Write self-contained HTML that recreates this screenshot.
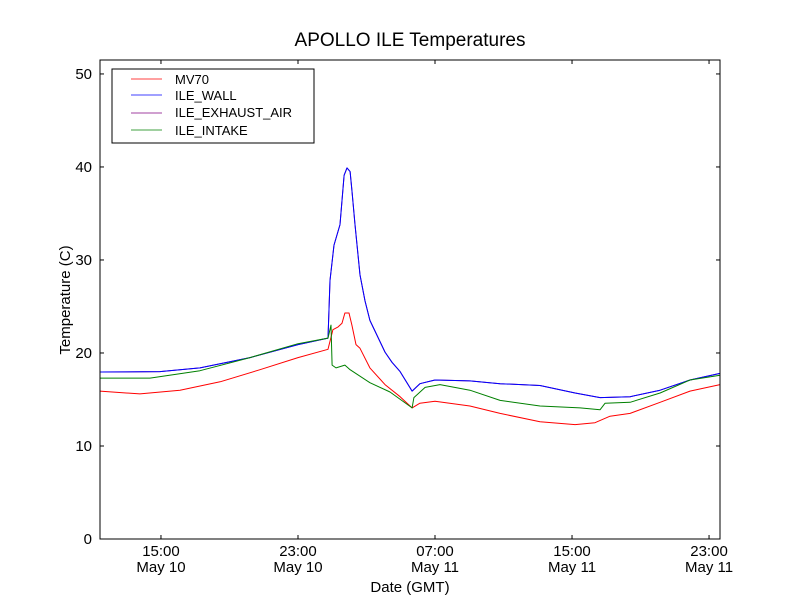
<!DOCTYPE html>
<html><head><meta charset="utf-8"><style>
body{margin:0;background:#fff;}
svg text{font-family:"Liberation Sans","DejaVu Sans",sans-serif;}
</style></head><body>
<svg id="c" width="800" height="600" xmlns="http://www.w3.org/2000/svg">
<rect width="800" height="600" fill="#fff"/>
<text x="410" y="46" font-size="19" text-anchor="middle">APOLLO ILE Temperatures</text>
<g id="plot"></g>
<rect x="100" y="60" width="620" height="479" fill="none" stroke="#000"/>
<g id="axes"></g>
<text x="410" y="592" font-size="15" text-anchor="middle">Date (GMT)</text>
<text transform="translate(70,300) rotate(-90)" font-size="15" text-anchor="middle">Temperature (C)</text>
<g>
<rect x="112" y="69" width="202" height="74" fill="#fff" stroke="#000"/>
<line x1="131" y1="79" x2="162" y2="79" stroke="#ff0000" stroke-width="0.8"/><text x="175" y="84" font-size="13">MV70</text>
<line x1="131" y1="95" x2="162" y2="95" stroke="#0000ff" stroke-width="0.8"/><text x="175" y="100" font-size="13">ILE_WALL</text>
<line x1="131" y1="113" x2="162" y2="113" stroke="#800080" stroke-width="0.8"/><text x="175" y="117" font-size="13">ILE_EXHAUST_AIR</text>
<line x1="131" y1="130" x2="162" y2="130" stroke="#008000" stroke-width="0.8"/><text x="175" y="135" font-size="13">ILE_INTAKE</text>
</g>
</svg>
<script>
// hours since May 10 00:00 GMT
const wallHours=[11.44,14.94,17.28,20.20,23.0,24.75,24.87,25.10,25.45,25.69,25.86,26.04,26.15,26.33,26.62,26.91,27.20,28.08,28.49,28.96,29.66,30.12,31.0,33.04,34.80,37.13,39.18,40.64,42.39,44.14,45.89,47.64];
const wallTemps=[17.96,18.0,18.4,19.5,20.9,21.6,27.8,31.6,33.8,39.1,39.9,39.5,37.5,33.8,28.4,25.6,23.5,20.1,19.0,18.0,15.9,16.7,17.1,17.0,16.7,16.5,15.7,15.2,15.3,16.0,17.1,17.8];
const mvHours=[11.44,13.77,16.11,18.45,20.78,23.0,24.75,25.04,25.34,25.57,25.74,25.98,26.15,26.39,26.62,27.20,28.08,28.96,29.66,30.12,31.0,33.04,34.80,37.13,39.18,40.34,41.22,42.39,44.14,45.89,47.64];
const mvTemps=[15.9,15.6,16.0,16.9,18.2,19.5,20.4,22.5,22.8,23.2,24.3,24.3,23.0,20.9,20.5,18.4,16.6,15.3,14.1,14.6,14.8,14.3,13.5,12.6,12.3,12.5,13.2,13.5,14.7,15.9,16.6];
const intakeHours=[11.44,14.36,17.28,20.20,23.0,24.75,24.93,24.99,25.22,25.74,26.04,27.20,28.37,29.66,29.77,30.42,31.29,33.04,34.80,37.13,39.47,40.64,40.93,42.39,44.14,45.89,47.64];
const intakeTemps=[17.3,17.3,18.1,19.5,21.0,21.6,23.0,18.7,18.4,18.7,18.2,16.8,15.8,14.1,15.2,16.3,16.6,16.0,14.9,14.3,14.1,13.9,14.6,14.7,15.7,17.1,17.6];
const exhaustHours=wallHours;
const exhaustTemps=wallTemps;
const yTicks=[0,10,20,30,40,50];
const xTickHours=[15,23,31,39,47];
const xTickTimes=["15:00","23:00","07:00","15:00","23:00"];
const xTickDates=["May 10","May 10","May 11","May 11","May 11"];

const X0=100,X1=720,Y0=539,Y1=60,H0=11.44,H1=47.64,T0=0,T1=51.5;
const sx=h=>X0+(h-H0)/(H1-H0)*(X1-X0);
const sy=t=>Y0-(t-T0)/(T1-T0)*(Y0-Y1);
const NS="http://www.w3.org/2000/svg";
const plot=document.getElementById('plot'),axes=document.getElementById('axes');
function mk(tag,attrs,parent){const e=document.createElementNS(NS,tag);for(const k in attrs)e.setAttribute(k,attrs[k]);parent.appendChild(e);return e;}
function line(hs,ts,color,name){
  const p=mk('polyline',{points:hs.map((h,i)=>sx(h).toFixed(1)+','+sy(ts[i]).toFixed(1)).join(' '),fill:'none',stroke:color,'stroke-width':1,'stroke-linejoin':'round'},plot);
  
  
}
line(exhaustHours,exhaustTemps,'#800080','series-ile-exhaust-air');
line(mvHours,mvTemps,'#ff0000','series-mv70');
line(wallHours,wallTemps,'#0000ff','series-ile-wall');
line(intakeHours,intakeTemps,'#008000','series-ile-intake');
yTicks.forEach(v=>{
  const y=sy(v);
  mk('line',{x1:X0,y1:y,x2:X0+4,y2:y,stroke:'#000'},axes);
  mk('line',{x1:X1,y1:y,x2:X1-4,y2:y,stroke:'#000'},axes);
  const t=mk('text',{x:X0-8,y:y+5,'font-size':15,'text-anchor':'end'},axes);
  t.textContent=v;
  
  
});
xTickHours.forEach((h,i)=>{
  const x=sx(h);
  mk('line',{x1:x,y1:Y0,x2:x,y2:Y0-4,stroke:'#000'},axes);
  mk('line',{x1:x,y1:Y1,x2:x,y2:Y1+4,stroke:'#000'},axes);
  const t=mk('text',{x:x,y:556,'font-size':15,'text-anchor':'middle'},axes);
  t.textContent=xTickTimes[i];
  
  
  const d=mk('text',{x:x,y:572,'font-size':15,'text-anchor':'middle'},axes);
  d.textContent=xTickDates[i];
  
  
});
</script>
</body></html>
